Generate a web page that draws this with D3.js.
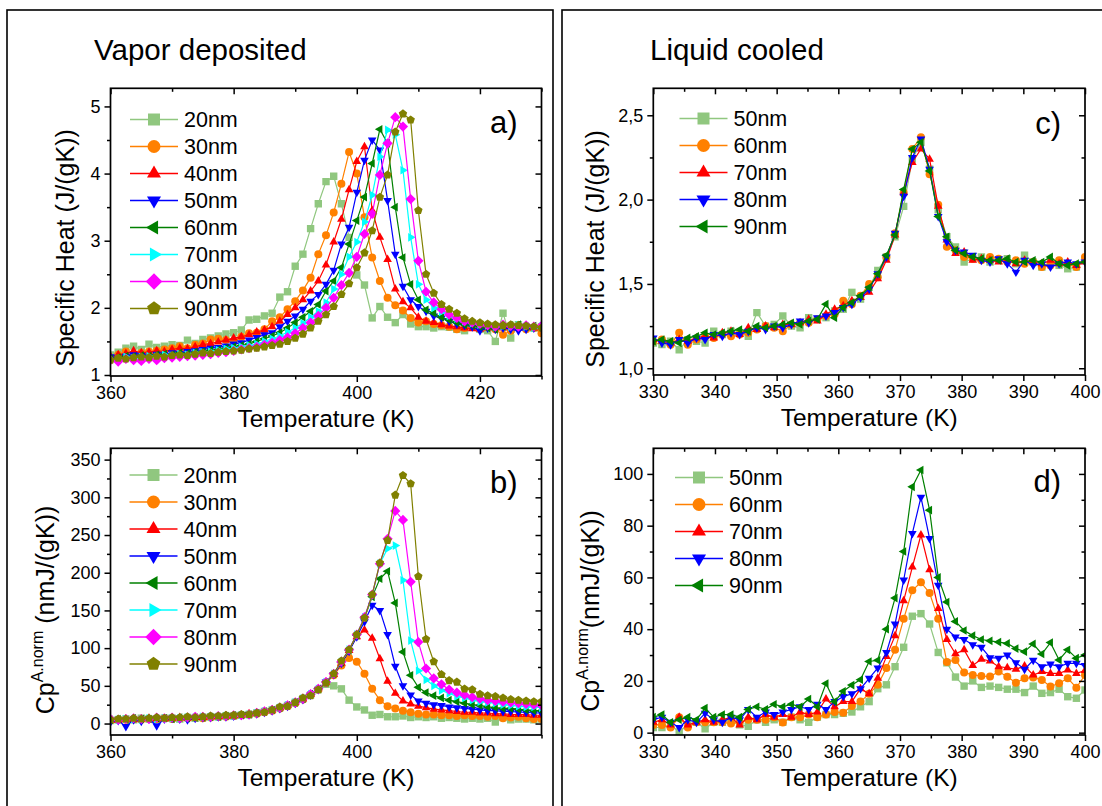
<!DOCTYPE html>
<html>
<head>
<meta charset="utf-8">
<script src="https://cdn.jsdelivr.net/npm/d3@7"></script>
<style>
  body { margin: 0; background: #fff; }
  svg { display: block; }
</style>
</head>
<body>
<svg width="1102" height="806"></svg>
<script>
// ---------- data: vapor deposited films (panels a, b) ----------
const tempVD = [360, 361.25, 362.5, 363.75, 365, 366.25, 367.5, 368.75, 370, 371.25,
  372.5, 373.75, 375, 376.25, 377.5, 378.75, 380, 381.25, 382.5, 383.75,
  385, 386.25, 387.5, 388.75, 390, 391.25, 392.5, 393.75, 395, 396.25,
  397.5, 398.75, 400, 401.25, 402.5, 403.75, 405, 406.25, 407.5, 408.75,
  410, 411.25, 412.5, 413.75, 415, 416.25, 417.5, 418.75, 420, 421.25,
  422.5, 423.75, 425, 426.25, 427.5, 428.75, 430];
const sizesVD = ["20nm", "30nm", "40nm", "50nm", "60nm", "70nm", "80nm", "90nm"];

// specific heat J/(gK)
const cpVD20 = [1.30, 1.34, 1.40, 1.43, 1.38, 1.46, 1.41, 1.43, 1.45, 1.44,
  1.52, 1.47, 1.53, 1.55, 1.58, 1.61, 1.63, 1.67, 1.82, 1.83,
  1.88, 1.92, 2.16, 2.24, 2.62, 2.80, 3.18, 3.55, 3.88, 3.96,
  3.55, 3.05, 2.49, 2.34, 1.85, 2.02, 1.86, 1.78, 1.90, 1.76,
  1.72, 1.72, 1.70, 1.72, 1.71, 1.68, 1.66, 1.72, 1.68, 1.66,
  1.50, 1.92, 1.55, 1.75, 1.72, 1.70, 1.72];
const cpVD30 = [1.25, 1.30, 1.35, 1.31, 1.33, 1.35, 1.36, 1.38, 1.40, 1.43,
  1.40, 1.45, 1.47, 1.53, 1.54, 1.52, 1.50, 1.57, 1.62, 1.63,
  1.68, 1.80, 1.86, 1.98, 2.10, 2.26, 2.45, 2.80, 3.08, 3.42,
  3.85, 4.32, 4.00, 3.35, 2.75, 2.40, 2.15, 2.04, 1.96, 1.85,
  1.78, 1.80, 1.76, 1.74, 1.72, 1.68, 1.70, 1.72, 1.70, 1.72,
  1.68, 1.60, 1.66, 1.70, 1.68, 1.70, 1.62];
const cpVD40 = [1.28, 1.30, 1.32, 1.36, 1.33, 1.34, 1.36, 1.35, 1.38, 1.40,
  1.39, 1.42, 1.45, 1.47, 1.49, 1.52, 1.55, 1.57, 1.60, 1.64,
  1.67, 1.72, 1.80, 1.90, 2.00, 2.12, 2.25, 2.40, 2.64, 2.98,
  3.32, 3.76, 4.18, 4.40, 3.45, 3.05, 2.72, 2.28, 2.09, 2.00,
  1.86, 1.80, 1.78, 1.75, 1.73, 1.72, 1.70, 1.69, 1.68, 1.70,
  1.72, 1.70, 1.72, 1.70, 1.71, 1.70, 1.72];
const cpVD50 = [1.27, 1.25, 1.28, 1.30, 1.29, 1.27, 1.31, 1.30, 1.33, 1.32,
  1.35, 1.36, 1.38, 1.40, 1.41, 1.43, 1.46, 1.48, 1.52, 1.56,
  1.60, 1.63, 1.72, 1.80, 1.88, 1.98, 2.10, 2.20, 2.35, 2.56,
  2.95, 3.20, 3.72, 4.20, 4.50, 4.35, 3.60, 2.80, 2.32, 2.12,
  2.02, 1.95, 1.88, 1.85, 1.80, 1.76, 1.74, 1.72, 1.66, 1.70,
  1.68, 1.70, 1.68, 1.66, 1.68, 1.70, 1.70];
const cpVD60 = [1.24, 1.26, 1.28, 1.27, 1.29, 1.28, 1.30, 1.31, 1.30, 1.33,
  1.32, 1.34, 1.35, 1.37, 1.38, 1.40, 1.42, 1.44, 1.46, 1.50,
  1.54, 1.58, 1.63, 1.70, 1.78, 1.86, 1.95, 2.05, 2.25, 2.40,
  2.60, 2.95, 3.30, 3.65, 4.15, 4.66, 4.45, 3.50, 2.75, 2.35,
  2.12, 1.97, 1.92, 1.86, 1.82, 1.78, 1.75, 1.74, 1.72, 1.70,
  1.68, 1.72, 1.74, 1.75, 1.72, 1.73, 1.70];
const cpVD70 = [1.22, 1.24, 1.27, 1.25, 1.27, 1.28, 1.27, 1.30, 1.29, 1.31,
  1.30, 1.33, 1.34, 1.35, 1.37, 1.39, 1.40, 1.42, 1.44, 1.46,
  1.50, 1.54, 1.58, 1.64, 1.70, 1.77, 1.86, 1.95, 2.08, 2.28,
  2.50, 2.76, 2.98, 3.28, 3.68, 4.25, 4.65, 4.58, 4.05, 3.05,
  2.35, 2.12, 2.00, 1.94, 1.88, 1.84, 1.80, 1.77, 1.75, 1.74,
  1.72, 1.73, 1.72, 1.74, 1.72, 1.70, 1.72];
const cpVD80 = [1.22, 1.20, 1.24, 1.22, 1.21, 1.24, 1.22, 1.25, 1.26, 1.27,
  1.28, 1.29, 1.30, 1.31, 1.33, 1.34, 1.36, 1.38, 1.40, 1.42,
  1.45, 1.48, 1.52, 1.56, 1.62, 1.70, 1.78, 1.88, 2.00, 2.15,
  2.34, 2.52, 2.76, 3.10, 3.40, 3.98, 4.45, 4.84, 4.70, 3.62,
  2.70, 2.24, 2.08, 1.98, 1.90, 1.85, 1.80, 1.78, 1.76, 1.74,
  1.72, 1.75, 1.73, 1.72, 1.74, 1.72, 1.73];
const cpVD90 = [1.22, 1.25, 1.24, 1.26, 1.27, 1.26, 1.28, 1.27, 1.29, 1.30,
  1.29, 1.31, 1.33, 1.32, 1.34, 1.35, 1.36, 1.37, 1.39, 1.40,
  1.42, 1.44, 1.46, 1.50, 1.55, 1.61, 1.70, 1.80, 1.90, 2.02,
  2.20, 2.36, 2.60, 2.82, 3.15, 3.65, 3.98, 4.62, 4.89, 4.80,
  3.45, 2.50, 2.22, 2.05, 1.98, 1.92, 1.84, 1.80, 1.78, 1.76,
  1.75, 1.74, 1.75, 1.74, 1.73, 1.72, 1.70];

// area normalised Cp, nmJ/(gK)
const cpnVD20 = [4, 5, 6, 5, 7, 6, 6, 7, 7, 6,
  8, 7, 8, 9, 9, 10, 10, 11, 12, 14,
  16, 18, 21, 24, 28, 33, 38, 45, 52, 50,
  46, 31, 22, 18, 11, 12, 9, 9, 10, 8,
  9, 8, 9, 7, 8, 7, 6, 7, 6, 7,
  2, 8, 5, 6, 6, 5, 6];
const cpnVD30 = [4, 5, 5, 6, 5, 6, 6, 7, 6, 7,
  7, 8, 7, 8, 9, 9, 10, 11, 12, 13,
  15, 17, 20, 23, 27, 32, 38, 45, 54, 64,
  77, 87, 82, 66, 46, 31, 23, 20, 17, 15,
  13, 12, 12, 11, 11, 10, 11, 10, 10, 9,
  10, 7, 8, 9, 7, 6, 6];
const cpnVD40 = [5, 4, 6, 5, 6, 7, 6, 6, 7, 8,
  7, 8, 8, 9, 9, 10, 10, 11, 13, 14,
  16, 18, 21, 24, 28, 33, 39, 46, 55, 65,
  80, 97, 115, 124, 113, 86, 56, 40, 30, 26,
  23, 21, 19, 18, 17, 16, 15, 15, 14, 14,
  13, 13, 12, 12, 12, 11, 11];
const cpnVD50 = [2, 4, -4, 5, 3, 6, -3, 6, 7, 6,
  5, 7, 8, 8, 9, 9, 10, 11, 12, 13,
  15, 17, 20, 23, 27, 32, 38, 45, 55, 65,
  80, 96, 115, 135, 157, 150, 118, 76, 50, 38,
  30, 27, 25, 24, 22, 21, 20, 19, 18, 17,
  17, 16, 16, 15, 15, 14, 14];
const cpnVD60 = [5, 6, 5, 7, 6, 6, 7, 7, 6, 8,
  7, 8, 8, 9, 9, 10, 11, 11, 12, 14,
  16, 18, 21, 24, 28, 33, 39, 46, 55, 66,
  81, 97, 117, 140, 168, 192, 202, 160, 95, 64,
  48, 41, 37, 34, 31, 29, 27, 25, 24, 22,
  21, 20, 20, 19, 18, 17, 17];
const cpnVD70 = [5, 5, 6, 6, 5, 7, 6, 7, 7, 7,
  8, 8, 9, 9, 9, 10, 10, 11, 12, 14,
  16, 18, 21, 24, 28, 33, 39, 46, 55, 66,
  82, 98, 118, 141, 170, 212, 232, 236, 190, 110,
  70, 58, 50, 44, 40, 36, 34, 31, 29, 28,
  27, 25, 24, 23, 22, 22, 21];
const cpnVD80 = [6, 5, 6, 7, 6, 6, 8, 7, 8, 7,
  8, 9, 9, 9, 10, 10, 11, 11, 12, 14,
  16, 18, 21, 24, 28, 33, 39, 46, 55, 66,
  82, 98, 118, 141, 171, 212, 245, 282, 270, 188,
  108, 73, 60, 52, 45, 41, 38, 35, 33, 31,
  30, 29, 28, 27, 26, 25, 24];
const cpnVD90 = [5, 6, 6, 7, 6, 7, 8, 7, 8, 8,
  9, 8, 9, 10, 10, 11, 11, 12, 12, 14,
  15, 18, 22, 23, 28, 34, 37, 45, 54, 66,
  83, 98, 118, 140, 171, 213, 243, 303, 329, 318,
  195, 112, 82, 65, 57, 55, 46, 45, 39, 37,
  36, 34, 32, 31, 30, 29, 29];

// ---------- data: liquid cooled films (panels c, d) ----------
const tempLC = [330, 331.4, 332.8, 334.2, 335.6, 337, 338.4, 339.8, 341.2, 342.6,
  344, 345.4, 346.8, 348.2, 349.6, 351, 352.4, 353.8, 355.2, 356.6,
  358, 359.4, 360.8, 362.2, 363.6, 365, 366.4, 367.8, 369.2, 370.6,
  372, 373.4, 374.8, 376.2, 377.6, 379, 380.4, 381.8, 383.2, 384.6,
  386, 387.4, 388.8, 390.2, 391.6, 393, 394.4, 395.8, 397.2, 398.6, 400];
const sizesLC = ["50nm", "60nm", "70nm", "80nm", "90nm"];

const cpLC50 = [1.15, 1.14, 1.16, 1.11, 1.17, 1.16, 1.15, 1.22, 1.20, 1.22,
  1.21, 1.19, 1.33, 1.25, 1.26, 1.31, 1.25, 1.24, 1.30, 1.29,
  1.30, 1.34, 1.35, 1.45, 1.41, 1.48, 1.58, 1.66, 1.78, 1.96,
  2.24, 2.34, 2.18, 1.94, 1.78, 1.72, 1.63, 1.65, 1.66, 1.63,
  1.64, 1.65, 1.62, 1.67, 1.63, 1.60, 1.63, 1.61, 1.59, 1.60, 1.64];
const cpLC60 = [1.16, 1.17, 1.14, 1.21, 1.14, 1.17, 1.19, 1.18, 1.20, 1.19,
  1.20, 1.21, 1.23, 1.25, 1.24, 1.22, 1.26, 1.27, 1.27, 1.29,
  1.31, 1.32, 1.40, 1.38, 1.43, 1.50, 1.54, 1.66, 1.80, 2.04,
  2.30, 2.37, 2.15, 1.97, 1.72, 1.70, 1.66, 1.65, 1.64, 1.66,
  1.65, 1.63, 1.64, 1.62, 1.63, 1.60, 1.61, 1.64, 1.62, 1.60, 1.66];
const cpLC70 = [1.17, 1.16, 1.15, 1.17, 1.16, 1.18, 1.19, 1.18, 1.21, 1.22,
  1.20, 1.24, 1.23, 1.25, 1.24, 1.26, 1.26, 1.27, 1.29, 1.28,
  1.32, 1.35, 1.37, 1.40, 1.42, 1.45, 1.53, 1.64, 1.79, 2.04,
  2.22, 2.30, 2.24, 1.96, 1.76, 1.68, 1.69, 1.64, 1.65, 1.64,
  1.63, 1.64, 1.62, 1.64, 1.63, 1.62, 1.64, 1.62, 1.63, 1.61, 1.63];
const cpLC80 = [1.18, 1.15, 1.14, 1.17, 1.15, 1.18, 1.17, 1.20, 1.19, 1.21,
  1.20, 1.22, 1.24, 1.23, 1.25, 1.24, 1.26, 1.28, 1.27, 1.30,
  1.31, 1.33, 1.36, 1.38, 1.42, 1.47, 1.56, 1.66, 1.80, 2.02,
  2.25, 2.36, 2.18, 1.90, 1.75, 1.70, 1.69, 1.67, 1.64, 1.63,
  1.65, 1.62, 1.57, 1.64, 1.61, 1.62, 1.60, 1.62, 1.63, 1.62, 1.63];
const cpLC90 = [1.16, 1.17, 1.16, 1.15, 1.18, 1.19, 1.21, 1.20, 1.21, 1.22,
  1.23, 1.22, 1.25, 1.24, 1.25, 1.26, 1.27, 1.26, 1.28, 1.29,
  1.38, 1.30, 1.36, 1.39, 1.43, 1.48, 1.56, 1.67, 1.79, 2.06,
  2.30, 2.34, 2.17, 1.90, 1.78, 1.70, 1.68, 1.66, 1.65, 1.64,
  1.64, 1.65, 1.63, 1.63, 1.64, 1.63, 1.66, 1.62, 1.61, 1.62, 1.63];

const cpnLC50 = [2, 2, 3, 0.3, 3, 4, 1.5, 4, 4, 5,
  3, 2.5, 5, 4, 5, 4, 6, 5, 4, 6,
  7, 7, 7.5, 8, 10, 12, 17, 18.5, 25.5, 33,
  45, 46, 42, 31, 27, 21.5, 18, 20, 17.5, 18,
  17.5, 16.8, 16.8, 15.5, 18, 15.2, 15.5, 16.8, 13.9, 13.3, 16.5];
const cpnLC60 = [3, 3, 2, 6, 2, 4, 4, 4, 4, 3.5,
  4, 5, 5, 5, 6, 3.9, 6, 6, 7, 6,
  7, 8, 7.7, 10.3, 12, 15, 18.5, 25, 32, 44,
  55, 58.1, 54, 44, 27.3, 28.1, 23.3, 22.3, 21.9, 21.7,
  23.6, 21.6, 19.3, 21, 21.3, 20.4, 17.8, 19.1, 21, 17.4, 22.3];
const cpnLC70 = [4, 5, 3, 6, 3, 4, 5, 4, 5, 6,
  3, 6, 5, 7, 6, 7, 6, 8, 7, 8,
  13, 10, 12, 12, 17, 15, 21, 29.4, 37.5, 51,
  64, 76.4, 63, 48, 36, 30.5, 32, 26, 28.4, 27.7,
  25.5, 25.1, 24.5, 25.8, 22.3, 23.6, 22.9, 22.9, 24.2, 22.9, 24];
const cpnLC80 = [5, 6, 4, 2, 5, 4, 7.5, 5, 4, 6,
  5, 9, 6, 8, 7, 8, 9, 10, 9, 11,
  9, 12, 14, 15, 17, 21, 25, 31, 42, 59,
  77, 91, 75, 57, 40, 37, 36, 34, 33, 29,
  28.8, 30, 27, 24.5, 28, 25.5, 26.5, 25.5, 26.8, 26.8, 26];
const cpnLC90 = [6, 7, 4, 5, 6, 5, 9.5, 6, 7, 7,
  6, 9, 10, 9, 11, 10, 11, 10, 13, 10,
  19, 12, 16, 18.4, 20.5, 27.5, 28, 40, 52, 70,
  95, 101.5, 86, 60, 50.5, 43, 39.5, 37.5, 36, 35.5,
  35, 34.5, 32.5, 31.3, 34.3, 30.4, 34.8, 28.1, 32, 28.8, 30];

// ---------- styling ----------
const FONT = "'Liberation Sans', Arial, Helvetica, sans-serif";
const colorsVD = ["#90c77f", "#ff8000", "#ff0000", "#0000ff", "#008000", "#00ffff", "#ff00ff", "#808000"];
const shapesVD = ["square", "circle", "up", "down", "left", "right", "diamond", "pentagon"];
const colorsLC = ["#90c77f", "#ff8000", "#ff0000", "#0000ff", "#008000"];
const shapesLC = ["square", "circle", "up", "down", "left"];

const svg = d3.select("svg").attr("font-family", FONT);

// marker shapes, r = half size
function markerPath(shape, r) {
  const p = d3.path();
  if (shape === "square") {
    p.rect(-r, -r, 2 * r, 2 * r);
  } else if (shape === "circle") {
    p.moveTo(r * 1.08, 0);
    p.arc(0, 0, r * 1.08, 0, 2 * Math.PI);
  } else if (shape === "diamond") {
    const q = r * 1.38;
    p.moveTo(0, -q); p.lineTo(q, 0); p.lineTo(0, q); p.lineTo(-q, 0); p.closePath();
  } else if (shape === "pentagon") {
    const q = r * 1.2;
    for (let i = 0; i < 5; i++) {
      const a = -Math.PI / 2 + i * 2 * Math.PI / 5;
      if (i === 0) p.moveTo(q * Math.cos(a), q * Math.sin(a));
      else p.lineTo(q * Math.cos(a), q * Math.sin(a));
    }
    p.closePath();
  } else {
    const rot = { up: -90, down: 90, left: 180, right: 0 }[shape] * Math.PI / 180;
    const q = r * 1.35;
    for (let i = 0; i < 3; i++) {
      const a = rot + i * 2 * Math.PI / 3;
      if (i === 0) p.moveTo(q * Math.cos(a), q * Math.sin(a));
      else p.lineTo(q * Math.cos(a), q * Math.sin(a));
    }
    p.closePath();
  }
  return p.toString();
}

// outer frames of the two halves
svg.append("rect").attr("x", 7).attr("y", 10).attr("width", 546).attr("height", 830)
  .attr("fill", "none").attr("stroke", "#000").attr("stroke-width", 1.6);
svg.append("rect").attr("x", 562).attr("y", 10).attr("width", 600).attr("height", 830)
  .attr("fill", "none").attr("stroke", "#000").attr("stroke-width", 1.6);

svg.append("text").attr("x", 94).attr("y", 60).attr("font-size", 29.5).text("Vapor deposited");
svg.append("text").attr("x", 650).attr("y", 60).attr("font-size", 29.5).text("Liquid cooled");

function styleAxis(sel) {
  sel.select(".domain").remove();
  sel.selectAll("line").attr("stroke", "#000").attr("stroke-width", 1.5);
  sel.selectAll("text").attr("font-family", FONT).attr("font-size", 18).attr("fill", "#000");
}

function drawPanel(p) {
  const x = d3.scaleLinear().domain(p.xDomain).range([p.left, p.right]);
  const y = d3.scaleLinear().domain(p.yDomain).range([p.bottom, p.top]);
  const g = svg.append("g");

  g.append("clipPath").attr("id", p.id + "-clip").append("rect")
    .attr("x", p.left).attr("y", p.top)
    .attr("width", p.right - p.left).attr("height", p.bottom - p.top);
  const plot = g.append("g").attr("clip-path", `url(#${p.id}-clip)`);

  const line = d3.line().x(d => x(d[0])).y(d => y(d[1]));
  p.series.forEach(s => {
    const pts = p.temps.map((t, i) => [t, s.values[i]]);
    const sg = plot.append("g");
    sg.append("path").datum(pts).attr("d", line)
      .attr("fill", "none").attr("stroke", s.color).attr("stroke-width", 1.2);
    sg.selectAll("path.pt").data(pts).join("path").attr("class", "pt")
      .attr("transform", d => `translate(${x(d[0])},${y(d[1])})`)
      .attr("d", markerPath(s.shape, 3.7))
      .attr("fill", s.color);
  });

  // axes: labelled bottom/left, mirrored inward ticks on top/right
  g.append("g").attr("transform", `translate(0,${p.bottom})`)
    .call(d3.axisBottom(x).tickValues(p.xTicks).tickSize(6).tickPadding(4).tickFormat(d3.format("d")))
    .call(styleAxis);
  g.append("g").attr("transform", `translate(0,${p.bottom})`)
    .call(d3.axisBottom(x).tickValues(p.xMinor).tickSize(3.5).tickFormat(""))
    .call(styleAxis);
  g.append("g").attr("transform", `translate(${p.left},0)`)
    .call(d3.axisLeft(y).tickValues(p.yTicks).tickSize(6).tickPadding(4).tickFormat(p.yFormat))
    .call(styleAxis);
  g.append("g").attr("transform", `translate(${p.left},0)`)
    .call(d3.axisLeft(y).tickValues(p.yMinor).tickSize(3.5).tickFormat(""))
    .call(styleAxis);
  g.append("g").attr("transform", `translate(0,${p.top})`)
    .call(d3.axisBottom(x).tickValues(p.xTicks).tickSize(6).tickFormat(""))
    .call(styleAxis);
  g.append("g").attr("transform", `translate(0,${p.top})`)
    .call(d3.axisBottom(x).tickValues(p.xMinor).tickSize(3.5).tickFormat(""))
    .call(styleAxis);
  g.append("g").attr("transform", `translate(${p.right},0)`)
    .call(d3.axisLeft(y).tickValues(p.yTicks).tickSize(6).tickFormat(""))
    .call(styleAxis);
  g.append("g").attr("transform", `translate(${p.right},0)`)
    .call(d3.axisLeft(y).tickValues(p.yMinor).tickSize(3.5).tickFormat(""))
    .call(styleAxis);

  g.append("rect").attr("x", p.left).attr("y", p.top)
    .attr("width", p.right - p.left).attr("height", p.bottom - p.top)
    .attr("fill", "none").attr("stroke", "#000").attr("stroke-width", 1.7);

  // legend
  p.series.forEach((s, i) => {
    const ly = p.legendY + i * 27;
    g.append("line").attr("x1", p.legendX).attr("x2", p.legendX + 48)
      .attr("y1", ly).attr("y2", ly).attr("stroke", s.color).attr("stroke-width", 1.5);
    g.append("path").attr("transform", `translate(${p.legendX + 24},${ly})`)
      .attr("d", markerPath(s.shape, 6)).attr("fill", s.color);
    g.append("text").attr("x", p.legendX + 54).attr("y", ly).attr("dy", "0.35em")
      .attr("font-size", 21.5).text(s.name);
  });

  // panel letter
  g.append("text").attr("x", p.right - 24).attr("y", p.letterY)
    .attr("text-anchor", "end").attr("font-size", 31).text(p.letter);

  // axis titles
  g.append("text").attr("x", (p.left + p.right) / 2).attr("y", p.bottom + 51)
    .attr("text-anchor", "middle").attr("font-size", 24.5).text("Temperature (K)");
  const yt = g.append("text")
    .attr("transform", `translate(${p.yTitleX},${p.yTitleY}) rotate(-90)`)
    .attr("text-anchor", "middle").attr("font-size", 25);
  p.yTitle.forEach(part => {
    yt.append("tspan").attr("font-size", part.size).attr("dy", part.dy).text(part.t);
  });
}

const fmtComma = d => d3.format(".1f")(d).replace(".", ",");

drawPanel({
  id: "a", letter: "a)", letterY: 133,
  left: 110.5, right: 541.5, top: 88.3, bottom: 376,
  xDomain: [360, 430], yDomain: [0.985, 5.27],
  xTicks: [360, 380, 400, 420], xMinor: [370, 390, 410, 430],
  yTicks: [1, 2, 3, 4, 5], yMinor: [1.5, 2.5, 3.5, 4.5], yFormat: d3.format("d"),
  temps: tempVD,
  series: [cpVD20, cpVD30, cpVD40, cpVD50, cpVD60, cpVD70, cpVD80, cpVD90]
    .map((v, i) => ({ name: sizesVD[i], values: v, color: colorsVD[i], shape: shapesVD[i] })),
  legendX: 130, legendY: 119.5,
  yTitleX: 74, yTitleY: 248,
  yTitle: [{ t: "Specific Heat (J/(gK))", size: 25, dy: 0 }]
});

drawPanel({
  id: "b", letter: "b)", letterY: 493,
  left: 110.5, right: 541.5, top: 448.3, bottom: 735,
  xDomain: [360, 430], yDomain: [-15.2, 365],
  xTicks: [360, 380, 400, 420], xMinor: [370, 390, 410, 430],
  yTicks: [0, 50, 100, 150, 200, 250, 300, 350], yMinor: [25, 75, 125, 175, 225, 275, 325],
  yFormat: d3.format("d"),
  temps: tempVD,
  series: [cpnVD20, cpnVD30, cpnVD40, cpnVD50, cpnVD60, cpnVD70, cpnVD80, cpnVD90]
    .map((v, i) => ({ name: sizesVD[i], values: v, color: colorsVD[i], shape: shapesVD[i] })),
  legendX: 129.5, legendY: 475,
  yTitleX: 54, yTitleY: 610,
  yTitle: [{ t: "Cp", size: 25, dy: 0 }, { t: "A.norm", size: 16, dy: -11 },
    { t: " (nmJ/(gK))", size: 25, dy: 11 }]
});

drawPanel({
  id: "c", letter: "c)", letterY: 134,
  left: 653.3, right: 1085, top: 88.3, bottom: 375,
  xDomain: [330, 400], yDomain: [0.96, 2.66],
  xTicks: [330, 340, 350, 360, 370, 380, 390, 400], xMinor: [335, 345, 355, 365, 375, 385, 395],
  yTicks: [1.0, 1.5, 2.0, 2.5], yMinor: [1.25, 1.75, 2.25], yFormat: fmtComma,
  temps: tempLC,
  series: [cpLC50, cpLC60, cpLC70, cpLC80, cpLC90]
    .map((v, i) => ({ name: sizesLC[i], values: v, color: colorsLC[i], shape: shapesLC[i] })),
  legendX: 679.5, legendY: 118.5,
  yTitleX: 604, yTitleY: 249,
  yTitle: [{ t: "Specific Heat (J/(gK))", size: 25, dy: 0 }]
});

drawPanel({
  id: "d", letter: "d)", letterY: 492,
  left: 653.3, right: 1085, top: 448.3, bottom: 735,
  xDomain: [330, 400], yDomain: [-0.9, 109.9],
  xTicks: [330, 340, 350, 360, 370, 380, 390, 400], xMinor: [335, 345, 355, 365, 375, 385, 395],
  yTicks: [0, 20, 40, 60, 80, 100], yMinor: [10, 30, 50, 70, 90], yFormat: d3.format("d"),
  temps: tempLC,
  series: [cpnLC50, cpnLC60, cpnLC70, cpnLC80, cpnLC90]
    .map((v, i) => ({ name: sizesLC[i], values: v, color: colorsLC[i], shape: shapesLC[i] })),
  legendX: 675, legendY: 477.5,
  yTitleX: 599, yTitleY: 611,
  yTitle: [{ t: "Cp", size: 25, dy: 0 }, { t: "A.norm", size: 16, dy: -11 },
    { t: "(nmJ/(gK))", size: 25, dy: 11 }]
});
</script>
</body>
</html>
